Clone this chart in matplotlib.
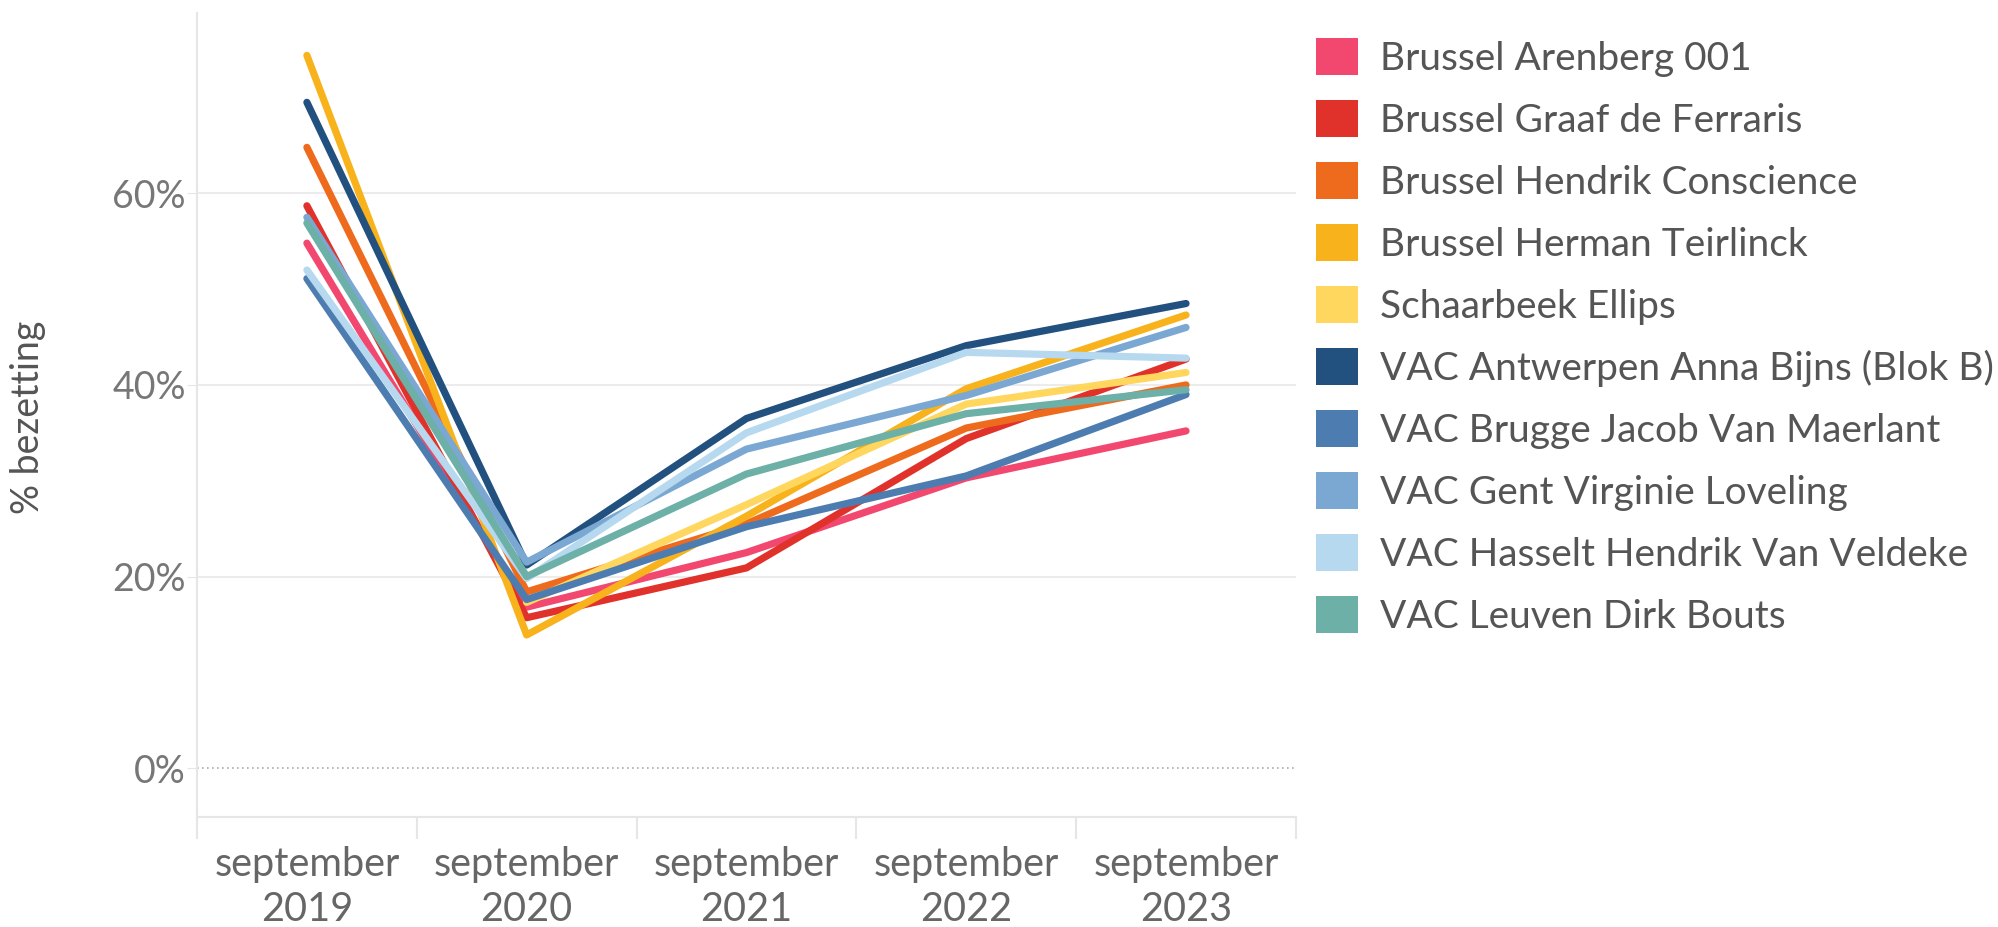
import matplotlib
matplotlib.use("Agg")
import matplotlib.pyplot as plt
import numpy as np
from matplotlib.patches import Patch
from matplotlib.ticker import FuncFormatter, FixedLocator

# Bezettingsgraad per gebouw (september van elk jaar), in procent
periodes = ['september\n2019', 'september\n2020', 'september\n2021',
            'september\n2022', 'september\n2023']

arenberg = [54.8, 16.8, 22.5, 30.3, 35.2]
ferraris = [58.7, 15.7, 20.9, 34.4, 42.7]
conscience = [64.8, 18.4, 25.5, 35.5, 40.0]
teirlinck = [74.4, 13.9, 26.3, 39.6, 47.3]
ellips = [np.nan, 17.3, 27.5, 38.0, 41.3]
antwerpen = [69.5, 21.2, 36.5, 44.1, 48.5]
brugge = [51.1, 17.6, 25.2, 30.5, 39.0]
gent = [57.5, 21.5, 33.3, 38.9, 46.0]
hasselt = [52.0, 19.8, 35.0, 43.4, 42.8]
leuven = [56.9, 20.0, 30.7, 37.0, 39.5]

namen = ['Brussel Arenberg 001', 'Brussel Graaf de Ferraris', 'Brussel Hendrik Conscience',
         'Brussel Herman Teirlinck', 'Schaarbeek Ellips', 'VAC Antwerpen Anna Bijns (Blok B)',
         'VAC Brugge Jacob Van Maerlant', 'VAC Gent Virginie Loveling',
         'VAC Hasselt Hendrik Van Veldeke', 'VAC Leuven Dirk Bouts']
reeksen = [arenberg, ferraris, conscience, teirlinck, ellips,
           antwerpen, brugge, gent, hasselt, leuven]
kleuren = ['#f2486f', '#e0322a', '#ee6a1c', '#f8b21b', '#ffd75e',
           '#22507f', '#4d7db0', '#7aa8d2', '#b6d9ef', '#6db0a8']

plt.rcParams['font.family'] = ['Lato', 'DejaVu Sans']

fig = plt.figure(figsize=(19.98, 9.27), dpi=100)
ax = fig.add_axes([0.0986, 0.1187, 0.55, 0.867])

x = np.arange(len(periodes))
for reeks, kleur in zip(reeksen, kleuren):
    ax.plot(x, reeks, color=kleur, linewidth=5.2, solid_capstyle='round',
            solid_joinstyle='round')

ax.set_xlim(-0.5, 4.5)
ax.set_ylim(-5.1, 78.8)

# rasterlijnen
for v in [20, 40, 60]:
    ax.axhline(v, color='#ececec', linewidth=1.5, zorder=0)
ax.axhline(0, color='#aaaaaa', linewidth=1.2, linestyle=(0, (1, 2)), zorder=0)

for s in ['top', 'right']:
    ax.spines[s].set_visible(False)
ax.spines['left'].set_color('#e6e6e6')
ax.spines['bottom'].set_color('#e6e6e6')
ax.spines['left'].set_linewidth(1.5)
ax.spines['bottom'].set_linewidth(1.5)

ax.yaxis.set_major_locator(FixedLocator([0, 20, 40, 60]))
ax.yaxis.set_major_formatter(FuncFormatter(lambda v, p: f'{v:.0f}%'))
ax.tick_params(axis='y', length=7, color='#e6e6e6', labelsize=27,
               labelcolor='#777777', pad=1)

ax.set_xticks(x)
ax.set_xticklabels(periodes, fontsize=28.5, color='#666666', linespacing=1.25)
ax.set_xticks(np.arange(-0.5, 5.0, 1.0), minor=True)
ax.tick_params(axis='x', which='major', length=0, pad=21)
ax.tick_params(axis='x', which='minor', length=16, color='#e6e6e6', width=1.5)

ax.set_ylabel('% bezetting', fontsize=27, color='#555555')
ax.yaxis.set_label_coords(-0.137, 0.497)

handles = [Patch(facecolor=k, edgecolor='none') for k in kleuren]
fig.legend(handles, namen, loc='upper left', bbox_to_anchor=(0.6587, 0.959),
           frameon=False, fontsize=28, labelcolor='#555555',
           handlelength=1.08, handleheight=1.08, handletextpad=0.56,
           labelspacing=0.60, borderaxespad=0, borderpad=0)

plt.savefig('out.png', dpi=100)
